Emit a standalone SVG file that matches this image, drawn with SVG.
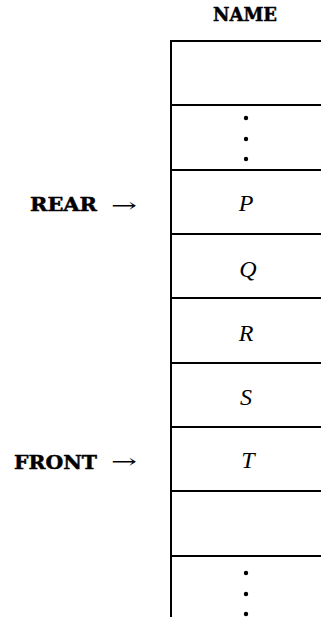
<svg xmlns="http://www.w3.org/2000/svg" width="321" height="617" viewBox="0 0 321 617">
  <style>
    .rule { stroke: #000; stroke-width: 2; fill: none; }
    .head { font-family: "DejaVu Serif", "Liberation Serif", serif; font-weight: bold; font-size: 19px; fill: #000; stroke: #000; stroke-width: 0.5; }
    .cell { font-family: "Liberation Serif", "DejaVu Serif", serif; font-style: italic; font-size: 24px; fill: #000; text-anchor: middle; }
    .arrow { font-family: "DejaVu Serif", "Liberation Serif", serif; font-size: 20px; fill: #000; }
    .dot { fill: #000; }
  </style>
  <rect width="321" height="617" fill="#fff"/>

  <!-- column title -->
  <g id="title">
    <text class="head" x="213" y="21" textLength="64" lengthAdjust="spacingAndGlyphs">NAME</text>
  </g>

  <!-- array cells: left edge and row separators -->
  <g id="array">
    <line class="rule" x1="171" y1="40" x2="171" y2="617"/>
    <line class="rule" x1="170" y1="41" x2="321" y2="41"/>
    <line class="rule" x1="170" y1="105" x2="321" y2="105"/>
    <line class="rule" x1="170" y1="170" x2="321" y2="170"/>
    <line class="rule" x1="170" y1="234" x2="321" y2="234"/>
    <line class="rule" x1="170" y1="298" x2="321" y2="298"/>
    <line class="rule" x1="170" y1="363" x2="321" y2="363"/>
    <line class="rule" x1="170" y1="427" x2="321" y2="427"/>
    <line class="rule" x1="170" y1="491" x2="321" y2="491"/>
    <line class="rule" x1="170" y1="556" x2="321" y2="556"/>
  </g>

  <g id="cell-dots-upper">
    <circle class="dot" cx="246" cy="118" r="2.2"/>
    <circle class="dot" cx="246" cy="139" r="2.2"/>
    <circle class="dot" cx="246" cy="159" r="2.2"/>
  </g>
  <g id="cell-P"><text class="cell" x="246" y="211">P</text></g>
  <g id="cell-Q"><text class="cell" x="248" y="277">Q</text></g>
  <g id="cell-R"><text class="cell" x="246" y="341">R</text></g>
  <g id="cell-S"><text class="cell" x="246" y="405">S</text></g>
  <g id="cell-T"><text class="cell" x="248" y="468">T</text></g>
  <g id="cell-dots-lower">
    <circle class="dot" cx="246" cy="573" r="2.2"/>
    <circle class="dot" cx="246" cy="594" r="2.2"/>
    <circle class="dot" cx="246" cy="614" r="2.2"/>
  </g>

  <!-- pointer labels -->
  <g id="rear">
    <text class="head" x="30" y="211" textLength="67" lengthAdjust="spacingAndGlyphs">REAR</text>
    <text class="arrow" x="111" y="212" textLength="26" lengthAdjust="spacingAndGlyphs">→</text>
  </g>
  <g id="front">
    <text class="head" x="14" y="469" textLength="83" lengthAdjust="spacingAndGlyphs">FRONT</text>
    <text class="arrow" x="111" y="468" textLength="26" lengthAdjust="spacingAndGlyphs">→</text>
  </g>
</svg>
